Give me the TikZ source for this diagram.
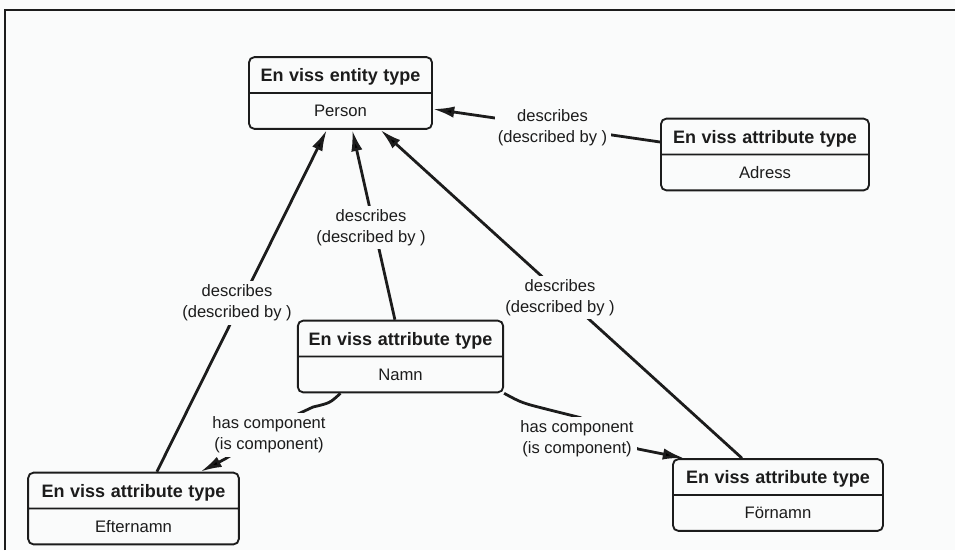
\documentclass[tikz,border=0pt]{standalone}
\usepackage{fontspec}
\setmainfont{Liberation Sans}
\usetikzlibrary{shapes.multipart,arrows.meta,calc}
\definecolor{paper}{RGB}{250,251,251}
\definecolor{ink}{RGB}{28,28,28}
% header and value rows of a type box, each 25.5pt high
\newcommand\typehead[1]{\rule[-7.9pt]{0pt}{25.5pt}{\fontsize{13.5}{15}\selectfont\bfseries #1}}
\newcommand\typename[1]{\rule[-8.25pt]{0pt}{25.5pt}#1}
\begin{document}
\begin{tikzpicture}[x=0.75pt,y=-0.75pt,
  typebox/.style={rectangle split, rectangle split parts=2, draw=ink,
    line width=1.4pt, rounded corners=4pt, fill=paper, text=ink,
    inner xsep=0pt, inner ysep=0pt, align=center, text width=#1,
    font=\fontsize{12.5}{15}\selectfont},
  conn/.style={draw=ink, line width=2.1pt},
  arr/.style={conn, -{Latex[length=16pt,width=8.5pt]}},
  rel/.style={fill=paper, inner sep=2.5pt, align=center, text=ink,
    font=\fontsize{12.4}{15.75}\selectfont}
]
\fill[paper] (0,0) rectangle (955,550);
\useasboundingbox (0,0) rectangle (955,550);

% frame
\draw[ink, line width=1.6pt] (5,550) -- (5,10) -- (955,10);

% type boxes
\node[typebox=137.25pt] (person) at (340.5,93)
  {\typehead{En viss entity type}\nodepart{two}\typename{Person}};
\node[typebox=156pt] (adress) at (765,154.5)
  {\typehead{En viss attribute type}\nodepart{two}\typename{Adress}};
\node[typebox=154pt] (namn) at (400.5,356.5)
  {\typehead{En viss attribute type}\nodepart{two}\typename{Namn}};
\node[typebox=158pt] (efternamn) at (133.5,508.5)
  {\typehead{En viss attribute type}\nodepart{two}\typename{Efternamn}};
\node[typebox=157.5pt] (fornamn) at (778,495)
  {\typehead{En viss attribute type}\nodepart{two}\typename{Förnamn}};

% describes relations
\draw[arr] ($(adress.west)+(0,-12.5)$) -- ($(person.east)+(0,16)$);
\draw[arr] ($(namn.north west)!0.473!(namn.north east)$)
  -- ($(person.south west)!0.563!(person.south east)$);
\draw[arr] ($(efternamn.north west)!0.61!(efternamn.north east)$)
  -- ($(person.south west)!0.426!(person.south east)$);
\draw[arr] ($(fornamn.north west)!0.33!(fornamn.north east)$)
  -- ($(person.south west)!0.716!(person.south east)$);

% component relations (middle stretch runs under the labels)
\draw[arr] ($(namn.south west)!0.21!(namn.south east)$)
  .. controls (330,403) .. (313,407) -- (298,414) -- (225,459)
  -- ($(efternamn.north west)!0.815!(efternamn.north east)$);
\draw[arr] (namn.south east)
  .. controls (522,403) .. (550,410) -- (580,417.5) -- (638,449)
  -- ($(fornamn.north west)!0.057!(fornamn.north east)$);

% relation labels
\node[rel] (d1) at (552.5,127.5) {describes\\(described by )};
\node[rel] (d2) at (371,227.5) {describes\\(described by )};
\node[rel] (d3) at (237,303) {describes\\(described by )};
\node[rel] (d4) at (560,297.5) {describes\\(described by )};
\node[rel] (c1) at (269,435) {has component\\(is component)};
\node[rel] (c2) at (577,438.5) {has component\\(is component)};
\end{tikzpicture}
\end{document}
